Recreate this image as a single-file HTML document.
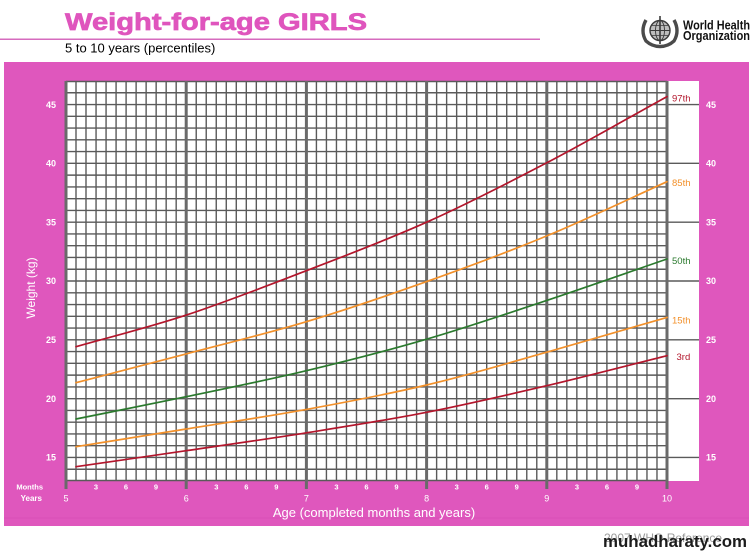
<!DOCTYPE html>
<html>
<head>
<meta charset="utf-8">
<style>
html,body{margin:0;padding:0;background:#fff;}
svg{display:block;}
text{font-family:"Liberation Sans",Arial,sans-serif;}
</style>
</head>
<body>
<svg width="755" height="554" viewBox="0 0 755 554" xmlns="http://www.w3.org/2000/svg">
<rect x="0" y="0" width="755" height="554" fill="#fff"/>

<!-- Header -->
<text x="65" y="30" font-size="24" font-weight="bold" fill="#DF55BD" stroke="#DF55BD" stroke-width="0.7" textLength="302" lengthAdjust="spacingAndGlyphs">Weight-for-age  GIRLS</text>
<line x1="0" y1="39.3" x2="540" y2="39.3" stroke="#D66BBE" stroke-width="1.5"/>
<text x="65" y="52.5" font-size="13" fill="#000">5 to 10 years (percentiles)</text>

<!-- WHO emblem -->
<g stroke="#3a3a3a" fill="none">
  <circle cx="660" cy="30.5" r="10" stroke-width="1.4" fill="#bdbdbd"/>
  <ellipse cx="660" cy="30.5" rx="4.5" ry="10" stroke-width="0.9"/>
  <line x1="650" y1="30.5" x2="670" y2="30.5" stroke-width="0.9"/>
  <line x1="651.5" y1="25.5" x2="668.5" y2="25.5" stroke-width="0.8"/>
  <line x1="651.5" y1="35.5" x2="668.5" y2="35.5" stroke-width="0.8"/>
  <line x1="660" y1="16" x2="660" y2="44" stroke-width="1.6"/>
  <path d="M646,20 Q640,31 646,41 Q652,46.5 660,46.5" stroke-width="3.4" stroke="#4a4a4a"/>
  <path d="M674,20 Q680,31 674,41 Q668,46.5 660,46.5" stroke-width="3.4" stroke="#4a4a4a"/>
</g>
<text x="683" y="29.5" font-size="12.5" font-weight="bold" fill="#111" textLength="67" lengthAdjust="spacingAndGlyphs">World Health</text>
<text x="683" y="39.8" font-size="12.5" font-weight="bold" fill="#111" textLength="67" lengthAdjust="spacingAndGlyphs">Organization</text>

<!-- Pink panel -->
<rect x="4" y="62" width="745" height="464" fill="#DF57BD"/>
<line x1="4" y1="518" x2="749" y2="518" stroke="#D94FB6" stroke-width="1"/>

<!-- White plot + right strip -->
<rect x="66" y="81" width="633" height="400" fill="#fff"/>

<!-- Minor vertical grid -->
<path stroke="#5a5a5a" stroke-width="1.4" fill="none" d="
M76,81V481 M86,81V481 M96.05,81V481 M106.07,81V481 M116.08,81V481 M126.1,81V481 M136.12,81V481 M146.13,81V481 M156.15,81V481 M166.17,81V481 M176.18,81V481
M196.22,81V481 M206.23,81V481 M216.25,81V481 M226.27,81V481 M236.28,81V481 M246.3,81V481 M256.32,81V481 M266.33,81V481 M276.35,81V481 M286.37,81V481 M296.38,81V481
M316.42,81V481 M326.43,81V481 M336.45,81V481 M346.47,81V481 M356.48,81V481 M366.5,81V481 M376.52,81V481 M386.53,81V481 M396.55,81V481 M406.57,81V481 M416.58,81V481
M436.62,81V481 M446.63,81V481 M456.65,81V481 M466.67,81V481 M476.68,81V481 M486.7,81V481 M496.72,81V481 M506.73,81V481 M516.75,81V481 M526.77,81V481 M536.78,81V481
M556.82,81V481 M566.83,81V481 M576.85,81V481 M586.87,81V481 M596.88,81V481 M606.9,81V481 M616.92,81V481 M626.93,81V481 M636.95,81V481 M646.97,81V481 M656.98,81V481
"/>
<!-- Horizontal grid -->
<path stroke="#5a5a5a" stroke-width="1.4" fill="none" d="
M66,81.5H667 M66,92.76H667 M66,104.53H699 M66,116.3H667 M66,128.06H667 M66,139.83H667 M66,151.59H667 M66,163.36H699
M66,175.12H667 M66,186.89H667 M66,198.65H667 M66,210.42H667 M66,222.18H699 M66,233.95H667 M66,245.71H667 M66,257.48H667
M66,269.24H667 M66,281H699 M66,292.77H667 M66,304.54H667 M66,316.3H667 M66,328.07H667 M66,339.83H699 M66,351.6H667
M66,363.36H667 M66,375.13H667 M66,386.89H667 M66,398.66H699 M66,410.42H667 M66,422.19H667 M66,433.95H667 M66,445.72H667
M66,457.48H699 M66,469.25H667 M66,480.5H667
"/>
<!-- Major year lines -->
<path stroke="#6a6a6a" stroke-width="3" fill="none" d="M66,81V489 M186.2,81V489 M306.4,81V489 M426.6,81V489 M546.8,81V489 M667,81V489"/>

<!-- Curves -->
<g fill="none" stroke-width="1.7" stroke-linecap="round">
<path stroke="#B3162C" d="M76,346.7 C112.7,336.2 147.8,327.8 186.2,315.1 C224.6,302.4 266.3,286.2 306.4,270.7 C346.5,255.2 386.5,240.2 426.6,222.2 C466.7,204.2 506.7,183.7 546.8,162.8 C586.9,141.9 626.9,118.7 667,96.6"/>
<path stroke="#F2902A" d="M76,382.7 C112.7,373.1 147.8,364.1 186.2,353.9 C224.6,343.7 266.3,333.8 306.4,321.7 C346.5,309.7 386.5,295.9 426.6,281.6 C466.7,267.3 506.7,252.6 546.8,235.9 C586.9,219.3 626.9,199.8 667,181.7"/>
<path stroke="#2B7A2E" d="M76,419 C112.7,411.6 147.8,404.8 186.2,396.7 C224.6,388.7 266.3,380.3 306.4,370.7 C346.5,361.1 386.5,350.9 426.6,339.2 C466.7,327.5 506.7,313.8 546.8,300.4 C586.9,287 626.9,272.8 667,259"/>
<path stroke="#F2902A" d="M76,446.7 C112.7,440.8 147.8,435.2 186.2,429 C224.6,422.8 266.3,416.7 306.4,409.4 C346.5,402.1 386.5,394.5 426.6,385 C466.7,375.5 506.7,363.5 546.8,352.2 C586.9,340.9 626.9,329 667,317.4"/>
<path stroke="#B3162C" d="M76,466.7 C112.7,461.4 147.8,456.4 186.2,450.7 C224.6,445.1 266.3,439.2 306.4,432.8 C346.5,426.4 386.5,420.2 426.6,412.3 C466.7,404.5 506.7,395.1 546.8,385.7 C586.9,376.3 626.9,365.7 667,355.7"/>
</g>

<!-- Percentile labels -->
<g font-size="9.5">
<text x="672" y="101.5" fill="#B3162C">97th</text>
<text x="672" y="186" fill="#F2902A">85th</text>
<text x="672" y="264" fill="#2B7A2E">50th</text>
<text x="672" y="323.5" fill="#F2902A">15th</text>
<text x="676.5" y="360" fill="#B3162C">3rd</text>
</g>

<!-- Y tick labels -->
<g font-size="9" font-weight="bold" fill="#fff">
<g text-anchor="end">
<text x="56" y="107.8">45</text>
<text x="56" y="166.6">40</text>
<text x="56" y="225.4">35</text>
<text x="56" y="284.2">30</text>
<text x="56" y="343">25</text>
<text x="56" y="401.8">20</text>
<text x="56" y="460.7">15</text>
</g>
<text x="706" y="107.8">45</text>
<text x="706" y="166.6">40</text>
<text x="706" y="225.4">35</text>
<text x="706" y="284.2">30</text>
<text x="706" y="343">25</text>
<text x="706" y="401.8">20</text>
<text x="706" y="460.7">15</text>
</g>

<!-- Axis titles -->
<text transform="translate(35,288) rotate(-90)" text-anchor="middle" font-size="12" fill="#fff">Weight (kg)</text>
<text x="374" y="517" text-anchor="middle" font-size="13" fill="#fff">Age (completed months and years)</text>

<!-- Months / Years -->
<g font-size="7.5" font-weight="bold" fill="#fff">
<text x="43" y="489.5" text-anchor="end">Months</text>
<text x="42" y="501" text-anchor="end" font-size="8">Years</text>
<g text-anchor="middle">
<text x="96" y="489.5">3</text><text x="126" y="489.5">6</text><text x="156" y="489.5">9</text>
<text x="216.3" y="489.5">3</text><text x="246.3" y="489.5">6</text><text x="276.3" y="489.5">9</text>
<text x="336.5" y="489.5">3</text><text x="366.5" y="489.5">6</text><text x="396.5" y="489.5">9</text>
<text x="456.7" y="489.5">3</text><text x="486.7" y="489.5">6</text><text x="516.7" y="489.5">9</text>
<text x="576.9" y="489.5">3</text><text x="606.9" y="489.5">6</text><text x="636.9" y="489.5">9</text>
</g>
<g text-anchor="middle" font-size="9" font-weight="normal">
<text x="66" y="501.5">5</text>
<text x="186.2" y="501.5">6</text>
<text x="306.4" y="501.5">7</text>
<text x="426.6" y="501.5">8</text>
<text x="546.8" y="501.5">9</text>
<text x="667" y="501.5">10</text>
</g>
</g>

<!-- Footer -->
<text x="604" y="542" font-size="12" fill="#9a9a9a">2007 WHO Reference</text>
<text x="603" y="547" font-size="16.5" font-weight="bold" fill="#1c1c1c" textLength="144" lengthAdjust="spacingAndGlyphs">muhadharaty.com</text>
</svg>
</body>
</html>
